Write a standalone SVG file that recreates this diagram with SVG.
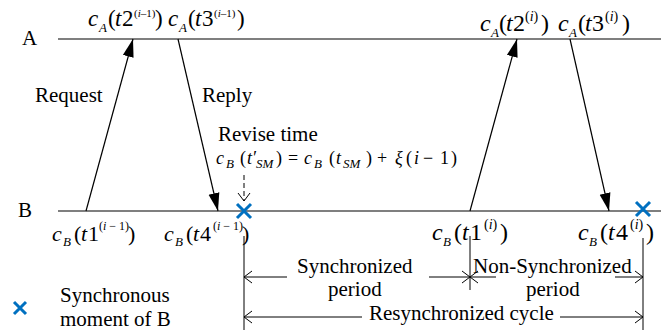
<svg xmlns="http://www.w3.org/2000/svg" width="661" height="332" viewBox="0 0 661 332">
<defs>
<style>
.t{font-family:"Liberation Serif","Times New Roman",serif;font-size:21px;fill:#000}
.m{font-family:"Liberation Serif","Times New Roman",serif;font-size:23px;fill:#000}
.f{font-family:"Liberation Serif","Times New Roman",serif;font-size:18px;fill:#000}
.i{font-style:italic}
.sub{font-size:13px;font-style:italic}
.sup{font-size:11px}
.sup2{font-size:14px}
.ln{stroke:#000;stroke-width:1.2;fill:none}
.pl{stroke:#000;stroke-width:1;fill:none}
.x{stroke:#0070C0;stroke-width:3;fill:none}
</style>
<marker id="ah" markerUnits="userSpaceOnUse" markerWidth="20" markerHeight="12" refX="18" refY="6" orient="auto">
<path d="M0,0.5 L18,6 L0,11.5 z" fill="#000"/>
</marker>
<marker id="oh" markerUnits="userSpaceOnUse" markerWidth="10" markerHeight="14" refX="9" refY="7" orient="auto">
<path d="M1,1 L9,7 L1,13" stroke="#000" stroke-width="1" fill="none"/>
</marker>
<marker id="dh" markerUnits="userSpaceOnUse" markerWidth="14" markerHeight="10" refX="7" refY="9" orient="0">
<path d="M1,1 L7,9 L13,1" stroke="#000" stroke-width="1" fill="none"/>
</marker>
</defs>
<rect width="661" height="332" fill="#fff"/>

<g id="timeline-A">
<line class="ln" x1="58" y1="39" x2="661" y2="39"/>
<text class="t" x="22" y="45">A</text>
</g>
<g id="timeline-B">
<line class="ln" x1="58" y1="211" x2="661" y2="211"/>
<text class="t" x="18" y="217">B</text>
</g>

<g id="connectors">
<line class="ln" x1="86" y1="211" x2="133" y2="39" marker-end="url(#ah)"/>
<line class="ln" x1="178" y1="39" x2="218" y2="211" marker-end="url(#ah)"/>
<line class="ln" x1="470" y1="211" x2="517" y2="39" marker-end="url(#ah)"/>
<line class="ln" x1="570" y1="39" x2="609" y2="211" marker-end="url(#ah)"/>
<line class="pl" x1="244" y1="175" x2="244" y2="201" stroke-dasharray="5,3" marker-end="url(#dh)"/>
<line class="pl" x1="244" y1="236" x2="244" y2="330"/>
<line class="pl" x1="470" y1="236" x2="470" y2="290"/>
<line class="pl" x1="643" y1="238" x2="643" y2="330"/>
<line class="pl" x1="287" y1="277" x2="244" y2="277" marker-end="url(#oh)"/>
<line class="pl" x1="429" y1="277" x2="470" y2="277" marker-end="url(#oh)"/>
<line class="pl" x1="496" y1="277" x2="470" y2="277" marker-end="url(#oh)"/>
<line class="pl" x1="615" y1="277" x2="643" y2="277" marker-end="url(#oh)"/>
<line class="pl" x1="362" y1="317" x2="244" y2="317" marker-end="url(#oh)"/>
<line class="pl" x1="560" y1="317" x2="643" y2="317" marker-end="url(#oh)"/>
</g>

<g id="label-top-left">
<text class="m"><tspan class="i" x="88" y="26">c</tspan><tspan class="sub" x="99" y="32">A</tspan><tspan x="108" y="26">(</tspan><tspan class="i" x="115" y="26">t</tspan><tspan x="122" y="26">2</tspan><tspan class="sup" x="134" y="17">(<tspan class="i">i</tspan>–1)</tspan><tspan x="155" y="26">)</tspan><tspan class="i" x="168" y="26">c</tspan><tspan class="sub" x="179" y="32">A</tspan><tspan x="188" y="26">(</tspan><tspan class="i" x="195" y="26">t</tspan><tspan x="202" y="26">3</tspan><tspan class="sup" x="214" y="17">(<tspan class="i">i</tspan>–1)</tspan><tspan x="237" y="26">)</tspan></text>
</g>

<g id="label-top-right">
<text class="m" style="font-size:24px"><tspan class="i" x="480" y="31">c</tspan><tspan class="sub" x="491" y="37">A</tspan><tspan x="499" y="31">(</tspan><tspan class="i" x="506" y="31">t</tspan><tspan x="513" y="31">2</tspan><tspan class="sup2" x="525" y="21">(<tspan class="i">i</tspan>)</tspan><tspan x="541" y="31">)</tspan><tspan class="i" x="558" y="31">c</tspan><tspan class="sub" x="569" y="37">A</tspan><tspan x="578" y="31">(</tspan><tspan class="i" x="585" y="31">t</tspan><tspan x="592" y="31">3</tspan><tspan class="sup2" x="605" y="21">(<tspan class="i">i</tspan>)</tspan><tspan x="622" y="31">)</tspan></text>
</g>

<g id="label-request"><text class="t" x="35" y="102">Request</text></g>
<g id="label-reply"><text class="t" x="202" y="102">Reply</text></g>

<g id="revise-time">
<text class="t" x="218" y="141">Revise time</text>
<text class="f"><tspan class="i" x="216" y="164">c</tspan><tspan class="sub" x="226" y="168">B</tspan><tspan x="240" y="164">(</tspan><tspan class="i" x="247" y="164">t′</tspan><tspan class="sub" x="256" y="168">SM</tspan><tspan x="276" y="164">)</tspan><tspan x="288" y="164">=</tspan><tspan class="i" x="304" y="164">c</tspan><tspan class="sub" x="314" y="168">B</tspan><tspan x="329" y="164">(</tspan><tspan class="i" x="336" y="164">t</tspan><tspan class="sub" x="343" y="168">SM</tspan><tspan x="366" y="164">)</tspan><tspan x="377" y="164">+</tspan><tspan class="i" x="395" y="164">ξ</tspan><tspan x="406" y="164">(</tspan><tspan class="i" x="414" y="164">i</tspan><tspan x="423" y="164">−</tspan><tspan x="440" y="164">1</tspan><tspan x="451" y="164">)</tspan></text>
</g>

<g id="label-bottom-left">
<text class="m" style="font-size:22px"><tspan class="i" x="52" y="241">c</tspan><tspan class="sub" x="63" y="246">B</tspan><tspan x="74" y="241">(</tspan><tspan class="i" x="81" y="241">t</tspan><tspan x="88" y="241">1</tspan><tspan class="sup" style="font-size:12px" x="99" y="230">(<tspan class="i">i</tspan> − 1)</tspan><tspan x="128" y="241">)</tspan><tspan class="i" x="164" y="241">c</tspan><tspan class="sub" x="175" y="246">B</tspan><tspan x="186" y="241">(</tspan><tspan class="i" x="193" y="241">t</tspan><tspan x="200" y="241">4</tspan><tspan class="sup" style="font-size:12px" x="213" y="230">(<tspan class="i">i</tspan> − 1)</tspan><tspan x="242" y="241">)</tspan></text>
</g>

<g id="label-bottom-right">
<text class="m" style="font-size:24px"><tspan class="i" x="432" y="240">c</tspan><tspan class="sub" x="443" y="246">B</tspan><tspan x="454" y="240">(</tspan><tspan class="i" x="462" y="240">t</tspan><tspan x="470" y="240">1</tspan><tspan class="sup2" x="484" y="229">(<tspan class="i">i</tspan>)</tspan><tspan x="500" y="240">)</tspan><tspan class="i" x="578" y="240">c</tspan><tspan class="sub" x="589" y="246">B</tspan><tspan x="600" y="240">(</tspan><tspan class="i" x="608" y="240">t</tspan><tspan x="616" y="240">4</tspan><tspan class="sup2" x="630" y="229">(<tspan class="i">i</tspan>)</tspan><tspan x="646" y="240">)</tspan></text>
</g>

<g id="sync-markers">
<path class="x" d="M237,204 L251,218 M251,204 L237,218"/>
<path class="x" d="M636,202 L650,216 M650,202 L636,216"/>
</g>

<g id="synchronized-period">
<text class="t" x="297" y="273">Synchronized</text>
<text class="t" x="328" y="296">period</text>
</g>
<g id="non-synchronized-period">
<text class="t" x="473" y="273">Non-Synchronized</text>
<text class="t" x="526" y="296">period</text>
</g>
<g id="resynchronized-cycle">
<text class="t" x="369" y="320">Resynchronized cycle</text>
</g>

<g id="legend">
<path class="x" d="M14,302 L26,314 M26,302 L14,314"/>
<text class="t" x="60" y="302">Synchronous</text>
<text class="t" x="60" y="326">moment of B</text>
</g>
</svg>
